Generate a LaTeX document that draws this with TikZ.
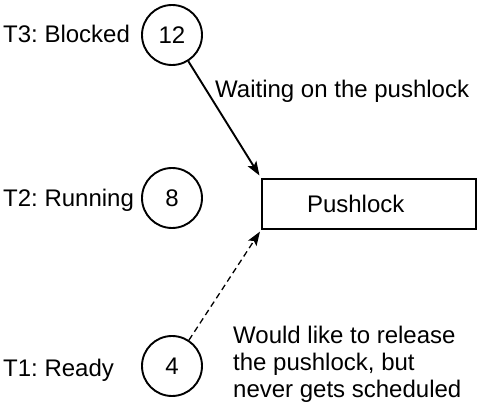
\documentclass[tikz,border=0pt]{standalone}
\usepackage{fontspec}
\setmainfont{Liberation Sans}
\usetikzlibrary{arrows.meta}
\frenchspacing

\begin{document}
\begin{tikzpicture}[x=1pt,y=-1pt,
  font=\fontsize{24}{27}\selectfont,
  thread/.style={circle,draw,line width=1.9pt,minimum size=60pt,inner sep=0pt},
  state/.style={anchor=base west,inner sep=0pt},
  tip/.style={-{Stealth[length=14pt,width=10pt,inset=3pt]}}]
\useasboundingbox (0,0) rectangle (480,403);
% threads, highest priority on top
\node[state] (t3) at (3,43) {T3: Blocked};
\node[state] (t2) at (3,207) {T2: Running};
\node[state] (t1) at (3,377) {T1: Ready};
\node[thread] (p12) at (172,35) {12};
\node[thread] (p8) at (172,198) {8};
\node[thread] (p4) at (172,366) {4};
% the lock
\node[draw,line width=1.9pt,minimum width=214pt,minimum height=50pt,text width=124pt,inner xsep=45pt,align=left] (lock) at (369,204) {Pushlock};
\draw[tip,line width=1.9pt,shorten >=3pt] (p12) -- (lock.north west);
\draw[tip,line width=1.3pt,dash pattern=on 6pt off 4pt,shorten >=2pt] (p4) -- (lock.south west);
\node[state] (wait) at (215,98) {Waiting on the pushlock};
\node[anchor=north west,inner sep=0pt,align=left] (note) at (233,325.5) {Would like to release\\the pushlock, but\\never gets scheduled};
\end{tikzpicture}
\end{document}
